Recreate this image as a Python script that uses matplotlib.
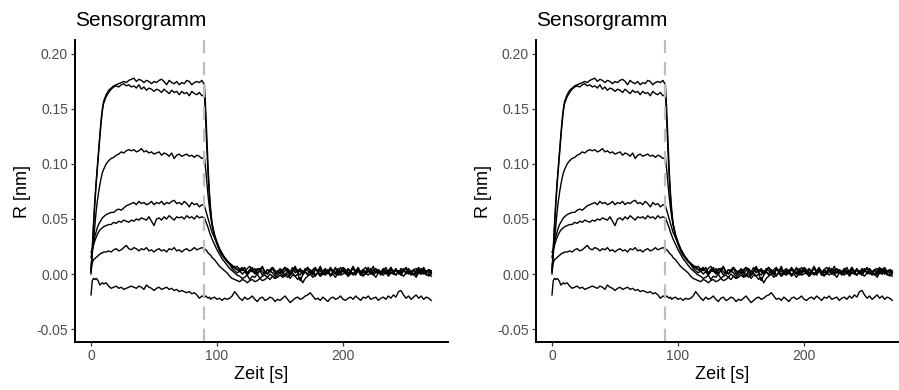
import numpy as np
import matplotlib
matplotlib.use("Agg")
import matplotlib.pyplot as plt

plt.rcParams['font.family'] = ['Liberation Sans', 'DejaVu Sans']

# time grid [s]
t = [0, 1, 2, 3, 4, 5, 6, 7, 8, 9, 10,
     12, 14, 16, 18, 20, 22, 24, 26, 28, 30,
     32, 34, 36, 38, 40, 42, 44, 46, 48, 50,
     52, 54, 56, 58, 60, 62, 64, 66, 68, 70,
     72, 74, 76, 78, 80, 82, 84, 86, 88, 90,
     91, 92, 93, 94, 95, 96, 98, 100, 102, 104, 106, 108, 110,
     112, 114, 116, 118, 120, 122, 124, 126, 128, 130,
     132, 134, 136, 138, 140, 142, 144, 146, 148, 150,
     152, 154, 156, 158, 160, 162, 164, 166, 168, 170,
     172, 174, 176, 178, 180, 182, 184, 186, 188, 190,
     192, 194, 196, 198, 200, 202, 204, 206, 208, 210,
     212, 214, 216, 218, 220, 222, 224, 226, 228, 230,
     232, 234, 236, 238, 240, 242, 244, 246, 248, 250,
     252, 254, 256, 258, 260, 262, 264, 266, 268, 270]

# responses in 1e-3 nm
curve_a = [2, 25, 46, 66, 83, 98, 112, 126, 140, 150, 157,
           163, 167, 169, 171, 172, 173, 174, 175, 174, 176,
           177, 178, 175, 177, 176, 174, 176, 175, 173, 175,
           174, 176, 177, 175, 172, 176, 174, 173, 175, 172,
           174, 173, 176, 175, 172, 174, 175, 174, 176, 172,
           150, 122, 95, 74, 58, 47, 35, 28, 22, 18, 15, 12, 10,
           8, 6, 7, 4, 6, 2, 5, 7, 3, 1, 5, 4, 7, 2, 0, 4, 6, 3, 1, 5,
           2, 6, 4, 0, 3, 7, 2, 5, 1, 4, 6, 2, 0, 5, 3, 7, 1, 4, 2, 6,
           3, 0, 5, 2, 6, 4, 1, 3, 7, 2, 5, 0, 4, 6, 2, 3, 7, 1, 4, 2,
           5, 3, 0, 6, 2, 4, 1, 5, 3, 6, 2, 0, 4, 5, 1, 3, 6, 2, 4, 3]
curve_b = [0, 22, 43, 63, 80, 95, 110, 124, 137, 148, 155,
           161, 165, 168, 170, 171, 170, 172, 173, 171, 172,
           170, 171, 169, 172, 168, 170, 167, 169, 168, 166,
           168, 167, 165, 168, 166, 164, 167, 165, 166, 163,
           166, 164, 165, 162, 166, 164, 163, 165, 162, 163,
           140, 112, 88, 70, 56, 45, 34, 27, 21, 17, 14, 11, 9,
           6, 7, 4, 5, 3, 6, 1, 4, 2, 5, 0, 3, 6, 1, 4, 2, 5, 0, 3, 1,
           4, 6, 2, -1, 3, 5, 1, 4, 0, 2, 6, 3, -1, 4, 2, 5, 1, 3, 0, 4,
           2, 5, 1, 6, 3, 0, 4, 2, 5, 1, 3, -1, 4, 2, 6, 0, 3, 5, 1, 2,
           4, 0, 3, 6, 1, 4, 2, -1, 3, 5, 2, 0, 4, 1, 3, 5, 0, 2, 4, 1]
curve_c = [5, 18, 32, 45, 56, 66, 74, 81, 87, 92, 95,
           100, 103, 105, 106, 108, 109, 111, 110, 112, 113,
           112, 113, 111, 112, 114, 111, 112, 110, 111, 109,
           110, 111, 108, 110, 109, 107, 110, 105, 108, 109,
           107, 108, 109, 107, 108, 106, 108, 107, 105, 106,
           95, 82, 70, 60, 52, 45, 36, 29, 23, 18, 15, 12, 9,
           7, 5, 4, 2, 5, 3, 0, 4, 6, 1, 3, 5, 2, 0, 4, 2, 6, 3, 1, 4,
           0, 3, 5, 2, 6, 1, 4, 2, 0, 5, 3, 1, 4, 6, 2, 0, 3, 5, 1, 4,
           2, 6, 0, 3, 4, 1, 5, 2, -1, 3, 6, 2, 4, 0, 3, 5, 1, 2, 4, 0,
           3, 6, 1, 4, 2, 5, 0, 3, 4, 1, 5, 2, 0, 3, 6, 1, 4, 2, 3, 0]
curve_d = [15, 22, 28, 34, 38, 42, 45, 47, 49, 51, 52,
           54, 55, 56, 56, 58, 59, 58, 60, 62, 63,
           64, 65, 63, 66, 64, 65, 63, 64, 66, 63,
           65, 64, 66, 63, 65, 64, 66, 67, 64, 65,
           63, 66, 64, 61, 65, 63, 64, 61, 63, 62,
           58, 54, 50, 46, 42, 38, 33, 28, 23, 19, 15, 12, 9,
           5, 3, 1, 3, 0, 2, -1, 2, 4, 0, 1, 3, -1, 2, 0, 3, 1, -2, 2, 4,
           1, -1, 3, 0, 2, 5, 1, -1, 3, 2, 0, 4, 1, -2, 2, 3, 0, 1, 4, -1,
           2, 0, 3, 1, 5, 2, -1, 3, 0, 2, 4, 1, -1, 2, 3, 0, 4, 1, 2, -1,
           3, 1, 0, 4, 2, -1, 3, 1, 5, 0, 2, 3, -1, 1, 4, 2, 0, 3, 1, 2]
curve_e = [20, 22, 26, 30, 33, 36, 38, 40, 41, 42, 43,
           44, 45, 45, 47, 46, 48, 47, 49, 48, 47,
           49, 48, 50, 49, 51, 50, 49, 52, 48, 44,
           50, 51, 49, 52, 50, 53, 51, 49, 52, 51,
           52, 50, 53, 51, 52, 50, 53, 51, 52, 51,
           48, 45, 42, 38, 35, 32, 27, 22, 18, 14, 11, 8, 5,
           3, 1, -1, -2, -4, -3, -1, -5, -2, -3, 0, -4, -2, -1, -3, 0, -2, -4, -1, 1,
           -2, 0, -3, -1, 1, -2, 0, -6, -1, 2, -1, 0, 3, -1, 1, -2, 2, 0, 3, -1,
           1, 2, -1, 0, 3, 1, -2, 2, 0, 1, 4, -1, 2, 0, 3, 1, -1, 2, 4, 0,
           1, 3, -1, 2, 0, 4, 1, -1, 3, 2, 0, 1, 4, -1, 2, 0, 3, 1, -2, 1]
curve_f = [2, 10, 13, 14, 15, 16, 17, 18, 19, 19, 20,
           20, 21, 20, 22, 23, 21, 22, 24, 26, 23,
           22, 24, 23, 21, 23, 22, 24, 21, 22, 20,
           22, 23, 21, 22, 20, 23, 22, 24, 21, 22,
           20, 22, 23, 21, 22, 24, 22, 23, 24, 23,
           22, 21, 19, 18, 17, 15, 13, 10, 7, 5, 3, 1, -2,
           -4, -5, -6, -7, -5, -6, -8, -6, -5, -7, -6, -4, -6, -5, -3, -5, -2, -4, -3, -1,
           -3, -2, 0, -4, -1, -2, -5, -3, -8, -4, -2, 0, -3, -1, 1, -2, 0, -1, 2, -2,
           0, -3, 1, -1, 0, 2, -2, 0, 1, -1, 3, 0, -2, 1, -1, 2, 0, -3, 1, 0,
           -1, 2, -2, 1, 0, -1, 3, 0, -2, 1, 2, -1, 0, -3, 1, 0, 2, -1, 0, -2]
curve_g = [-19, -6, -4, -5, -4, -5, -7, -10, -9, -8, -9,
           -8, -11, -13, -12, -11, -13, -12, -14, -13, -12,
           -11, -12, -13, -11, -12, -14, -10, -12, -13, -15,
           -13, -12, -14, -13, -12, -14, -13, -15, -14, -16,
           -15, -16, -17, -16, -18, -17, -19, -22, -20, -21,
           -20, -21, -22, -21, -23, -22, -21, -23, -22, -24, -22, -23, -22,
           -20, -16, -19, -22, -24, -21, -23, -22, -20, -23, -25, -22, -21, -24, -23, -21, -22, -25, -23, -24,
           -22, -20, -23, -26, -24, -22, -21, -23, -22, -20, -19, -17, -20, -23, -22, -24, -21, -23, -25, -22,
           -21, -23, -22, -20, -23, -24, -22, -21, -23, -20, -22, -24, -21, -22, -20, -23, -22, -21, -24, -22,
           -21, -23, -20, -22, -19, -21, -16, -15, -19, -22, -20, -23, -21, -19, -22, -20, -23, -21, -22, -24]

curves = [curve_a, curve_b, curve_c, curve_d, curve_e, curve_f, curve_g]
injection_end = 90

fig = plt.figure(figsize=(8.99, 3.9), dpi=100)
axes = [fig.add_axes([75 / 899, 48 / 390, 373 / 899, 302 / 390]),
        fig.add_axes([536 / 899, 48 / 390, 373 / 899, 302 / 390])]

for ax in axes:
    for c in curves:
        ax.plot(t, np.array(c) / 1000, color='black', lw=1.0)
    ax.axvline(injection_end, color='#BEBEBE', lw=1.6, dashes=(6, 4))
    ax.set_xlim(-12.7, 283.3)
    ax.set_ylim(-0.0618, 0.2127)
    ax.set_xticks([0, 100, 200])
    ax.set_yticks([-0.05, 0.0, 0.05, 0.10, 0.15, 0.20])
    ax.set_yticklabels(['-0.05', '0.00', '0.05', '0.10', '0.15', '0.20'])
    for s in ['top', 'right']:
        ax.spines[s].set_visible(False)
    for s in ['left', 'bottom']:
        ax.spines[s].set_linewidth(1.4)
        ax.spines[s].set_color('black')
    ax.tick_params(length=3, width=0.9, color='#333333', labelcolor='#4D4D4D',
                   labelsize=10, pad=2)
    ax.set_xlabel('Zeit [s]', fontsize=13, labelpad=2)
    ax.set_ylabel('R [nm]', fontsize=13, labelpad=4)
    ax.set_title('Sensorgramm', loc='left', fontsize=15, pad=10)

fig.savefig('out.png', dpi=100)
